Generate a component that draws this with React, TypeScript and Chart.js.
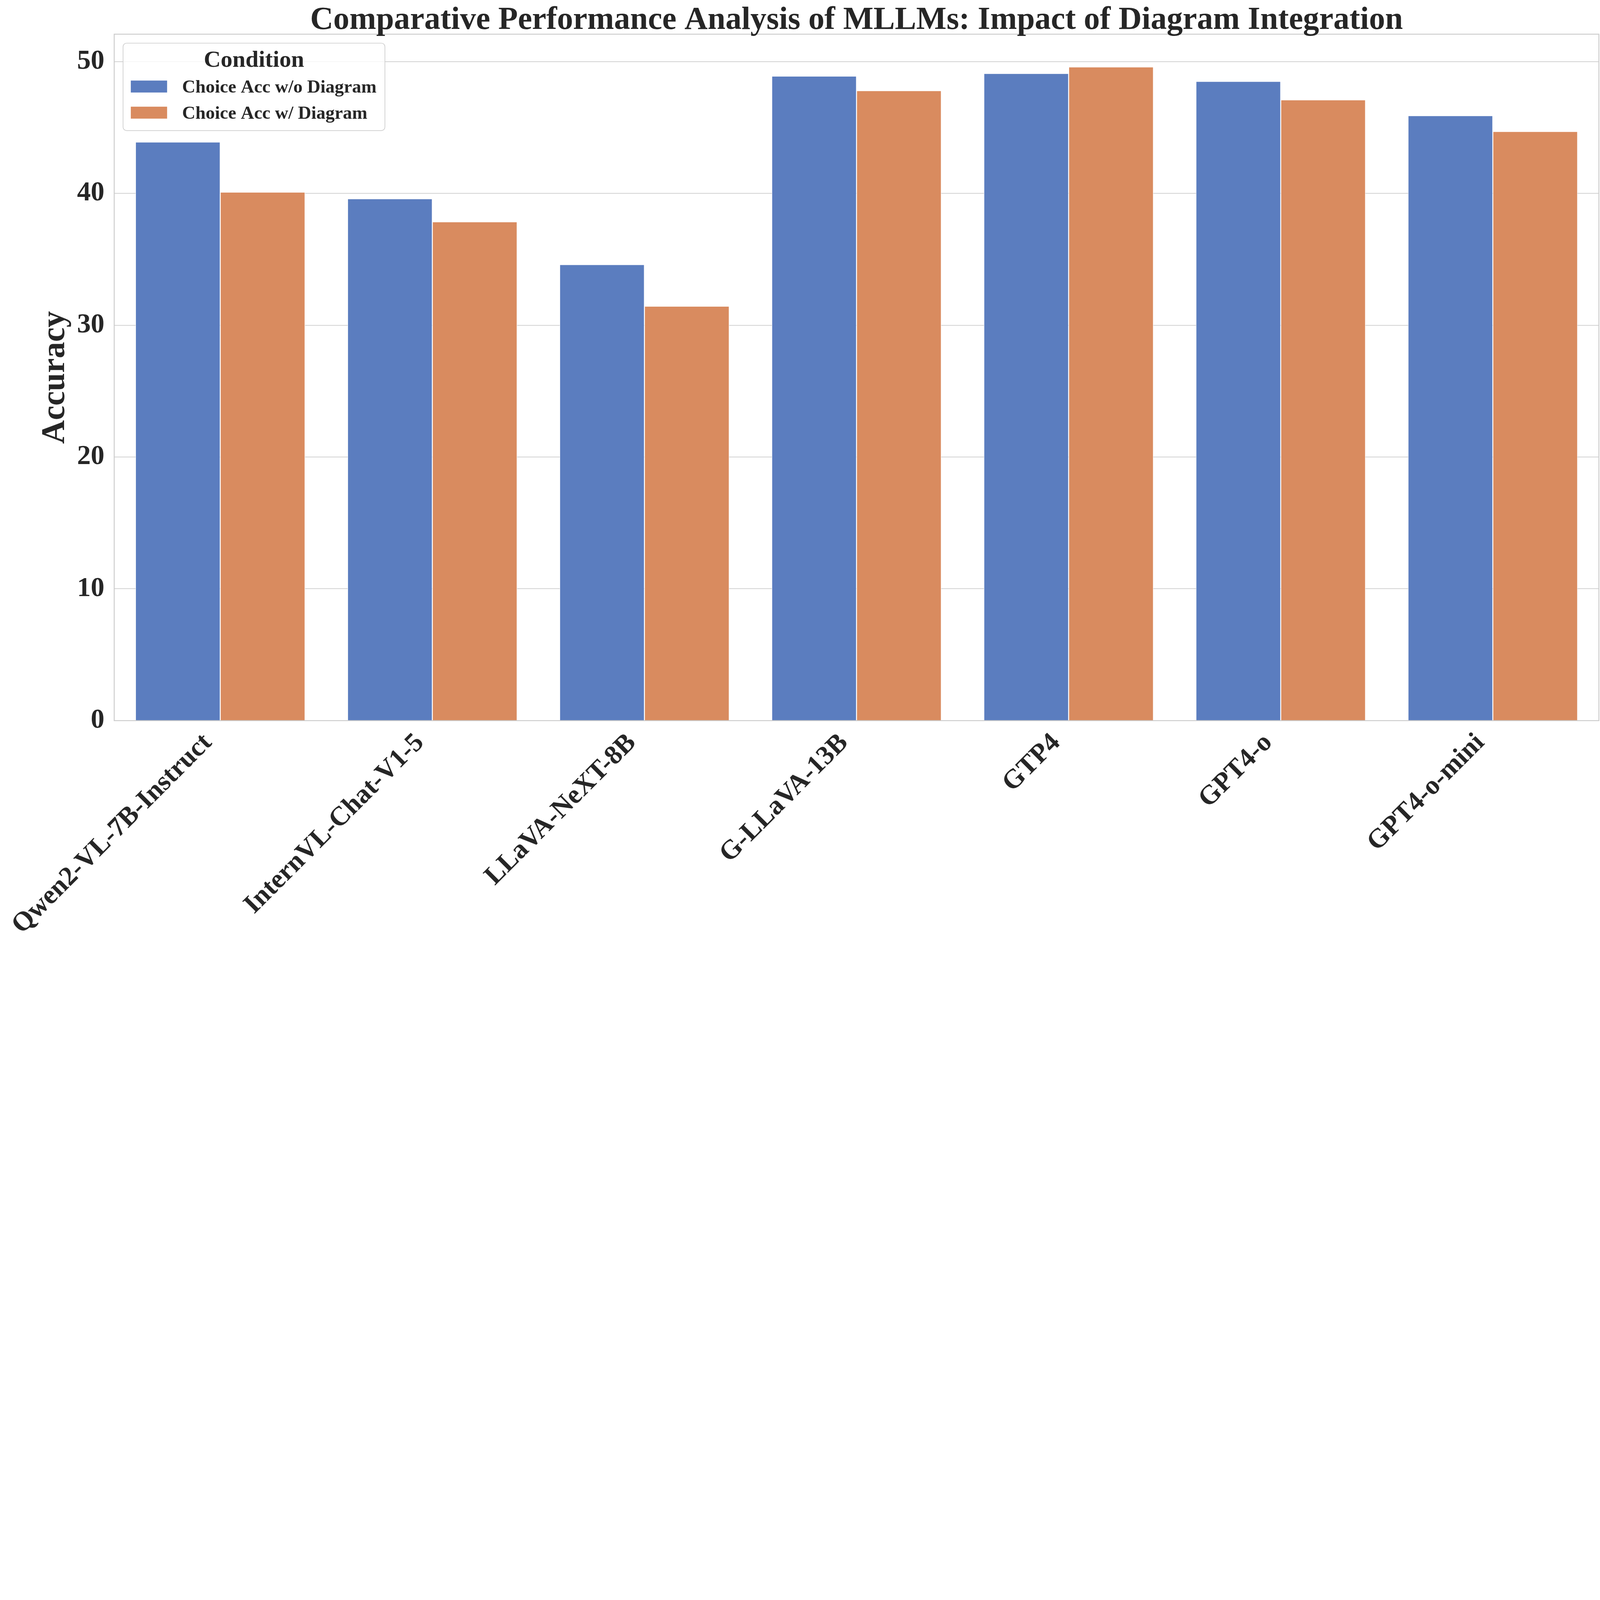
import React, { useEffect, useRef } from "react";
import { Chart, registerables } from "chart.js";

Chart.register(...registerables);

const categories = [
  "Qwen2-VL-7B-Instruct",
  "InternVL-Chat-V1-5",
  "LLaVA-NeXT-8B",
  "G-LLaVA-13B",
  "GTP4",
  "GPT4-o",
  "GPT4-o-mini",
];
const seriesLabels = ["Choice Acc w/o Diagram", "Choice Acc w/ Diagram"];
const accWithoutDiagram = [43.9, 39.6, 34.6, 48.9, 49.1, 48.5, 45.9];
const accWithDiagram = [40.1, 37.85, 31.45, 47.8, 49.6, 47.1, 44.7];
const yTicksStep = 10;
const yMax = 52.08;

// design size of the reference figure
const W = 7230;
const H = 4290;
const FONT = '"Liberation Serif", "Times New Roman", serif';
const TEXT = "#262626";

const decor = {
  id: "decor",
  afterDatasetsDraw(chart: any) {
    const { ctx, chartArea: ca } = chart;
    ctx.save();
    ctx.strokeStyle = "#cccccc";
    ctx.lineWidth = 4.2;
    ctx.strokeRect(ca.left, ca.top, ca.right - ca.left, ca.bottom - ca.top);
    ctx.restore();
  },
  afterDraw(chart: any) {
    const { ctx, chartArea: ca } = chart;
    ctx.save();
    ctx.fillStyle = TEXT;
    ctx.font = `bold 145px ${FONT}`;
    ctx.textAlign = "center";
    ctx.textBaseline = "alphabetic";
    ctx.fillText(
      "Comparative Performance Analysis of MLLMs: Impact of Diagram Integration",
      (ca.left + ca.right) / 2,
      130
    );
    const ds = chart.data.datasets;
    ctx.font = `bold 83px ${FONT}`;
    let w = 0;
    ds.forEach((d: any) => (w = Math.max(w, ctx.measureText(d.label).width)));
    const boxX = ca.left + 40;
    const boxY = ca.top + 40.5;
    const swX = boxX + 35;
    const textX = swX + 164 + 68;
    const boxW = textX + w + 38 - boxX;
    const boxH = 395;
    ctx.beginPath();
    if ((ctx as any).roundRect) (ctx as any).roundRect(boxX, boxY, boxW, boxH, 16);
    else ctx.rect(boxX, boxY, boxW, boxH);
    ctx.fillStyle = "rgba(255,255,255,0.8)";
    ctx.fill();
    ctx.strokeStyle = "#cccccc";
    ctx.lineWidth = 3;
    ctx.stroke();
    ctx.fillStyle = TEXT;
    ctx.font = `bold 106px ${FONT}`;
    ctx.textAlign = "center";
    ctx.fillText("Condition", boxX + boxW / 2, boxY + 107);
    ctx.font = `bold 83px ${FONT}`;
    ctx.textAlign = "left";
    ds.forEach((d: any, i: number) => {
      const base = boxY + 223 + i * 118;
      ctx.fillStyle = d.backgroundColor;
      ctx.fillRect(swX, base - 54, 164, 54);
      ctx.fillStyle = TEXT;
      ctx.fillText(d.label, textX, base);
    });
    ctx.restore();
  },
};

export default function App() {
  const ref = useRef<HTMLCanvasElement | null>(null);
  // the browser viewport may be smaller than the design size: fit to its width
  const vw = typeof window !== "undefined" ? Math.min(window.innerWidth || W, W) : W;
  const scale = (vw + 0.5) / W;
  const dispW = Math.floor(W * scale);
  const dispH = Math.floor(H * scale);

  useEffect(() => {
    document.body.style.margin = "0";
    document.body.style.overflow = "hidden";
    const canvas = ref.current!;
    const chart = new Chart(canvas, {
      type: "bar",
      data: {
        labels: categories,
        datasets: [
          {
            label: seriesLabels[0],
            data: accWithoutDiagram,
            backgroundColor: "#5B7DBF",
            borderColor: "#ffffff",
            borderWidth: 2.2,
            categoryPercentage: 0.8,
            barPercentage: 1.0,
          },
          {
            label: seriesLabels[1],
            data: accWithDiagram,
            backgroundColor: "#D98B5F",
            borderColor: "#ffffff",
            borderWidth: 2.2,
            categoryPercentage: 0.8,
            barPercentage: 1.0,
          },
        ],
      },
      options: {
        responsive: false,
        animation: false,
        devicePixelRatio: scale,
        layout: { padding: { left: 0, right: 6, top: 154.5, bottom: 0 } },
        plugins: {
          legend: { display: false },
          tooltip: { enabled: false },
          title: { display: false },
        },
        scales: {
          x: {
            grid: { display: false, drawTicks: false },
            border: { display: false },
            ticks: {
              autoSkip: false,
              minRotation: 45,
              maxRotation: 45,
              padding: 30,
              labelOffset: -56,
              color: TEXT,
              font: { family: FONT, size: 122, weight: "bold" },
            },
            afterFit(s: any) {
              s.height = 1034;
              s.paddingLeft = 0;
              s.paddingRight = 0;
            },
          },
          y: {
            min: 0,
            max: yMax,
            grid: { color: "#cccccc", lineWidth: 3.3, drawTicks: false },
            border: { display: false },
            ticks: {
              stepSize: yTicksStep,
              includeBounds: false,
              padding: 44,
              color: TEXT,
              font: { family: FONT, size: 124, weight: "bold" },
            },
            title: {
              display: true,
              text: "Accuracy",
              color: TEXT,
              font: { family: FONT, size: 148, weight: "bold" },
              padding: { top: 162, bottom: 0 },
            },
            afterFit(s: any) {
              s.width = 516;
              s.paddingTop = 0;
              s.paddingBottom = 0;
            },
          },
        },
      },
      plugins: [decor],
    } as any);
    return () => chart.destroy();
  }, []);
  return (
    <div style={{ width: dispW + "px", height: dispH + "px", overflow: "hidden", background: "#ffffff" }}>
      <canvas
        ref={ref}
        width={W}
        height={H}
        style={{ display: "block", width: dispW + "px", height: dispH + "px" }}
      />
    </div>
  );
}
